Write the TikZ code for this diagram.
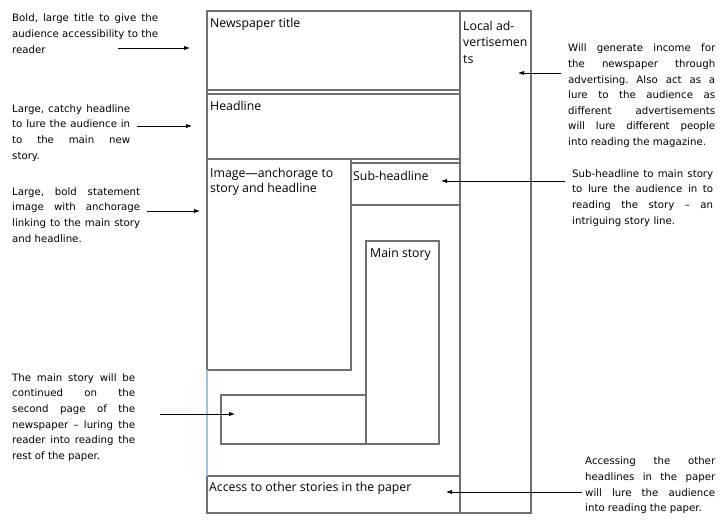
\documentclass[tikz,border=0pt]{standalone}
\usepackage{fontspec}
\setmainfont{DejaVu Sans}
\newfontfamily\boxfont{Open Sans}
\usepackage{tikz}
\usetikzlibrary{arrows.meta}

\definecolor{boxgrey}{RGB}{112,112,112}
\definecolor{edgeblue}{RGB}{150,195,240}

% one justified line of a note
\newcommand{\jl}[2]{\makebox[#1][s]{#2}}
\frenchspacing

\tikzset{
	pagebox/.style={draw=boxgrey,line width=1.2pt},
	note/.style={inner sep=0pt,anchor=north west,align=left,font=\fontsize{10.2}{15.6}\selectfont},
	boxlabel/.style={inner sep=0pt,align=left,font=\boxfont\fontsize{12.3}{16.5}\selectfont},
	pointer/.style={-{Latex[length=6pt,width=4.5pt]},line width=0.9pt}
}

\begin{document}
\begin{tikzpicture}[x=1pt,y=-1pt]
			\useasboundingbox (0,0) rectangle (728,529);
			% page layout
			\draw[pagebox] (207,11) rectangle (531,513);
			\draw[pagebox] (460,11) -- (460,513);
			\draw[pagebox] (207,90) -- (460,90);
			\draw[pagebox] (207,94) -- (460,94);
			\draw[pagebox] (207,159) -- (460,159);
			\draw[pagebox] (351,163) -- (460,163);
			\draw[pagebox] (207,159) rectangle (351,370);
			\draw[pagebox] (351,205) -- (460,205);
			\draw[pagebox] (366,241) rectangle (439,444);
			\draw[pagebox] (221,395) rectangle (366,444);
			\draw[pagebox] (207,476) -- (460,476);
			\draw[edgeblue,line width=1.2pt] (207,370) -- (207,476);
			% labels in the boxes
			\node[boxlabel,anchor=base west] (title) at (210,28) {Newspaper title};
			\node[boxlabel,anchor=north west] (ads) at (463,20.6) {Local ad-\\vertisemen\\ts};
			\node[boxlabel,anchor=base west] (headline) at (210,111) {Headline};
			\node[boxlabel,anchor=north west,font=\boxfont\fontsize{12.3}{15}\selectfont] (image) at (210,167.6) {Image—anchorage to\\story and headline};
			\node[boxlabel,anchor=base west] (subhead) at (353,181) {Sub-headline};
			\node[boxlabel,anchor=base west] (mainstory) at (370,258) {Main story};
			\node[boxlabel,anchor=base west] (others) at (209,491) {Access to other stories in the paper};
			% notes
			\node[note] (noteTitle) at (12,14) {\jl{146pt}{Bold, large title to give the}\\\jl{146pt}{audience accessibility to the}\\reader};
			\node[note] (noteHead) at (12,104.4) {\jl{118pt}{Large, catchy headline}\\\jl{118pt}{to lure the audience in}\\\jl{118pt}{to the main new}\\story.};
			\node[note] (noteImage) at (12,187.4) {\jl{128pt}{Large, bold statement}\\\jl{128pt}{image with anchorage}\\\jl{128pt}{linking to the main story}\\and headline.};
			\node[note] (noteCont) at (12,373.4) {\jl{123pt}{The main story will be}\\\jl{123pt}{continued on the}\\\jl{123pt}{second page of the}\\\jl{123pt}{newspaper – luring the}\\\jl{123pt}{reader into reading the}\\rest of the paper.};
			\node[note] (noteAds) at (568,44) {\jl{147pt}{Will generate income for}\\\jl{147pt}{the newspaper through}\\\jl{147pt}{advertising. Also act as a}\\\jl{147pt}{lure to the audience as}\\\jl{147pt}{different advertisements}\\\jl{147pt}{will lure different people}\\into reading the magazine.};
			\node[note] (noteSub) at (572,169.4) {\jl{141pt}{Sub-headline to main story}\\\jl{141pt}{to lure the audience in to}\\\jl{141pt}{reading the story – an}\\intriguing story line.};
			\node[note] (noteOthers) at (585,457) {\jl{130pt}{Accessing the other}\\\jl{130pt}{headlines in the paper}\\\jl{130pt}{will lure the audience}\\into reading the paper.};
			% arrow ends
			\coordinate (fromTitle) at (118,48);
			\coordinate (toTitle) at (190,48);
			\coordinate (fromHead) at (137,126);
			\coordinate (toHead) at (192,126);
			\coordinate (fromImage) at (147,211);
			\coordinate (toImage) at (200,211);
			\coordinate (fromCont) at (160,414);
			\coordinate (toCont) at (235,414);
			\coordinate (fromAds) at (561,73);
			\coordinate (toAds) at (518,73);
			\coordinate (fromSub) at (565,181);
			\coordinate (toSub) at (441,181);
			\coordinate (fromOthers) at (582,492);
			\coordinate (toOthers) at (446,492);
			\draw[pointer] (fromTitle) -- (toTitle);
			\draw[pointer] (fromHead) -- (toHead);
			\draw[pointer] (fromImage) -- (toImage);
			\draw[pointer] (fromCont) -- (toCont);
			\draw[pointer] (fromAds) -- (toAds);
			\draw[pointer] (fromSub) -- (toSub);
			\draw[pointer] (fromOthers) -- (toOthers);
		\end{tikzpicture}
\end{document}
